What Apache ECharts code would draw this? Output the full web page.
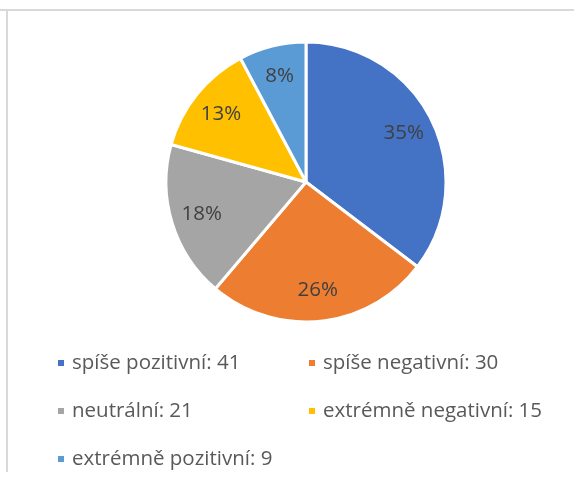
<!DOCTYPE html>
<html><head><meta charset="utf-8">
<script src="https://cdn.jsdelivr.net/npm/echarts@6/dist/echarts.min.js"></script>
<style>html,body{margin:0;padding:0;background:#fff}#c{width:574px;height:477px}</style>
</head><body><div id="c"></div>
<script>
const categories = ['spíše pozitivní', 'spíše negativní', 'neutrální', 'extrémně negativní', 'extrémně pozitivní'];
const values = [41, 30, 21, 15, 9];
const colors = ['#4472C4', '#ED7D31', '#A5A5A5', '#FFC000', '#5B9BD5'];

const data = categories.map((n, i) => ({ name: n, value: values[i], itemStyle: { color: colors[i] } }));
const valueOf = {};
categories.forEach((n, i) => valueOf[n] = values[i]);
const font = 'Open Sans';
const legendCommon = {
  orient: 'vertical', icon: 'rect', itemWidth: 8, itemHeight: 8, itemGap: 24, height: 200, padding: 0,
  textStyle: { fontFamily: font, fontSize: 20.5, lineHeight: 24, color: '#595959', padding: [0, 0, 0, 2] },
  formatter: n => n + ': ' + valueOf[n], selectedMode: false
};
const chart = echarts.init(document.getElementById('c'), null, { renderer: 'canvas' });
chart.setOption({
  animation: false,
  color: colors,
  legend: [
    Object.assign({ left: 56, top: 351, data: [categories[0], categories[2], categories[4]] }, legendCommon),
    Object.assign({ left: 307, top: 351, data: [categories[1], categories[3]] }, legendCommon)
  ],
  graphic: [
    { type: 'line', shape: { x1: 0, y1: 10, x2: 574, y2: 10 }, style: { stroke: '#d9d9d9', lineWidth: 2 } },
    { type: 'line', shape: { x1: 7, y1: 10, x2: 7, y2: 472 }, style: { stroke: '#d9d9d9', lineWidth: 2 } }
  ],
  series: [
    {
      type: 'pie', center: [306, 182], radius: [0, 140], startAngle: 90, clockwise: true,
      data: data, label: { show: false }, labelLine: { show: false },
      itemStyle: { borderColor: '#fff', borderWidth: 3 }, silent: true
    },
    {
      type: 'pie', center: [306, 182], radius: [72, 140], startAngle: 90, clockwise: true,
      data: categories.map((n, i) => ({ name: n, value: values[i], itemStyle: { color: 'rgba(0,0,0,0)' } })),
      itemStyle: { borderWidth: 0 }, silent: true, legendHoverLink: false,
      label: { show: true, position: 'inside', fontFamily: font, fontSize: 20.5, color: '#404040',
        formatter: p => Math.round(p.percent) + '%' },
      labelLine: { show: false }
    }
  ]
});
</script></body></html>
